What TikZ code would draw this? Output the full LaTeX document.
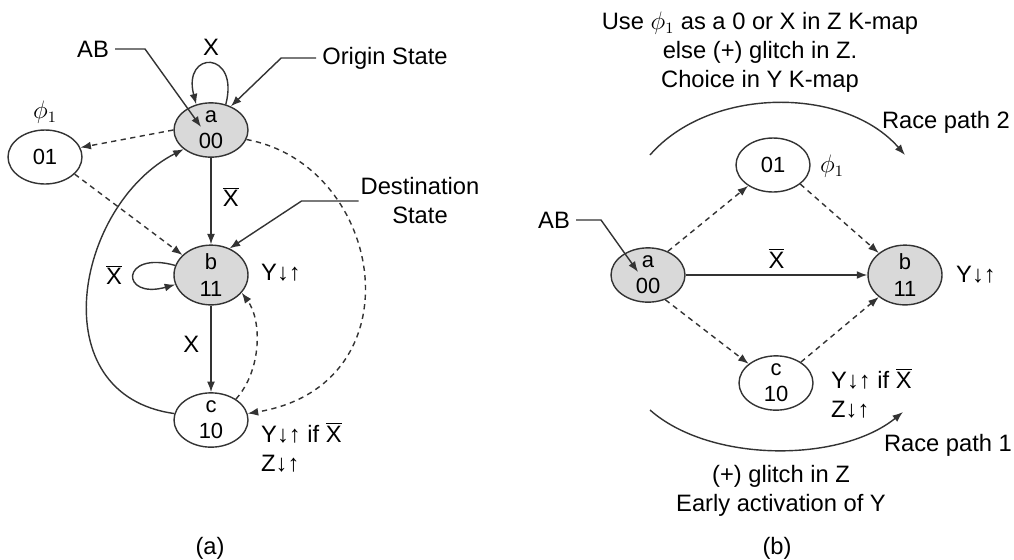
\documentclass[tikz,border=0pt]{standalone}
\usepackage{fontspec}
\setmainfont{Liberation Sans}
\usetikzlibrary{arrows.meta,shapes.geometric}
\newcommand{\Xb}{$\overline{\mbox{X}}$}

\begin{document}
\begin{tikzpicture}[
    x=0.02cm,
    y=-0.02cm,
    font=\fontsize{13.5}{16.5}\selectfont,
    line/.style={draw=black!80, line width=0.8pt},
    arr/.style={line, -{Latex[length=6pt,width=4.5pt]}},
    race/.style={arr, dash pattern=on 3pt off 2.5pt},
    state/.style={ellipse, draw=black!80, line width=0.8pt,
        minimum width=1.48cm, minimum height=1.08cm, inner sep=0pt,
        align=center, font=\fontsize{12.5}{15}\selectfont},
    shaded/.style={state, fill=black!15},
    note/.style={align=center, inner sep=1pt}
]
\path[use as bounding box] (0,0) rectangle (1014,559);

% ---------------- (a) flow diagram with the critical race ----------------
\node[shaded] (a1) at (211,130) {a\\00};
\node[shaded] (b1) at (211,275) {b\\11};
\node[state] (c1) at (211,420) {c\\10};
\node[state] (phi1) at (45,157) {01};
\node (phi1lbl) at (45,112) {$\phi_1$};

% entry and the two pointers
\node (AB1) at (93,49) {AB};
\coordinate (a1In) at (201,127);
\draw[arr] (AB1.east) -- ++(30,0) -- (a1In);
\node (orig) at (385,58) {Origin State};
\draw[arr] (orig.west) -- ++(-35,0) -- (a1.50);
\node[note] (dest) at (420,201) {Destination\\State};
\draw[arr] (dest.west) -- ++(-57,0) -- (b1.55);

% self-loops
\draw[arr] (a1.60) .. controls (240,50) and (182,50) ..
    node[above=1pt] {X} (a1.120);
\draw[arr] (b1.165) .. controls (120,250) and (120,300) ..
    node[left=3pt] {\Xb} (b1.195);

% direct transitions
\draw[arr] (a1) -- node[right=3pt, pos=0.45] {\Xb} (b1);
\draw[arr] (b1) -- node[left=3pt, pos=0.45] {X} (c1);
\draw[arr] (c1.170) .. controls (40,395) and (75,205) .. (a1.215);

% race paths (dashed)
\draw[race] (a1.west) -- (phi1.15);
\draw[race] (phi1.-30) -- (b1.145);
\draw[race] (c1.40) .. controls (262,370) and (262,320) .. (b1.-30);
\draw[race] (a1.-15) .. controls (385,165) and (420,385) .. (c1.10);

\node[anchor=west] (b1out) at (255,273) {Y↓↑};
\node[anchor=west, align=left] (c1out) at (255,447) {Y↓↑ if \Xb\\Z↓↑};
\node (capA) at (210,548) {(a)};

% ---------------- (b) the two race paths ----------------
\node[shaded] (a2) at (648,275) {a\\00};
\node[shaded] (b2) at (905,275) {b\\11};
\node[state] (phi2) at (773,165) {01};
\node[state] (c2) at (776,383) {c\\10};
\node (phi2lbl) at (832,166) {$\phi_1$};

\node (AB2) at (554,220) {AB};
\coordinate (a2In) at (638,272);
\draw[arr] (AB2.east) -- ++(25,0) -- (a2In);

\draw[arr] (a2) -- node[above] {\Xb} (b2);
\draw[race] (a2.50) -- (phi2.220);
\draw[race] (phi2.-35) -- (b2.140);
\draw[race] (a2.-55) -- (c2.145);
\draw[race] (c2.40) -- (b2.-140);

\node[anchor=west] (b2out) at (950,275) {Y↓↑};
\node[anchor=west, align=left] (c2out) at (825,393) {Y↓↑ if \Xb\\Z↓↑};

% race arrows
\coordinate (r2s) at (650,155);
\coordinate (r2e) at (905,155);
\draw[arr] (r2s) .. controls (710,86) and (845,86) .. (r2e);
\node (race2) at (946,122) {Race path 2};
\coordinate (r1s) at (650,410);
\coordinate (r1e) at (903,412);
\draw[arr] (r1s) .. controls (710,463) and (840,463) .. (r1e);
\node (race1) at (948,445) {Race path 1};

\node[note] (topnote) at (760,52)
    {Use $\phi_1$ as a 0 or X in Z K-map\\else (+) glitch in Z.\\Choice in Y K-map};
\node[note] (botnote) at (781,491) {(+) glitch in Z\\Early activation of Y};
\node (capB) at (777,548) {(b)};
\end{tikzpicture}
\end{document}
